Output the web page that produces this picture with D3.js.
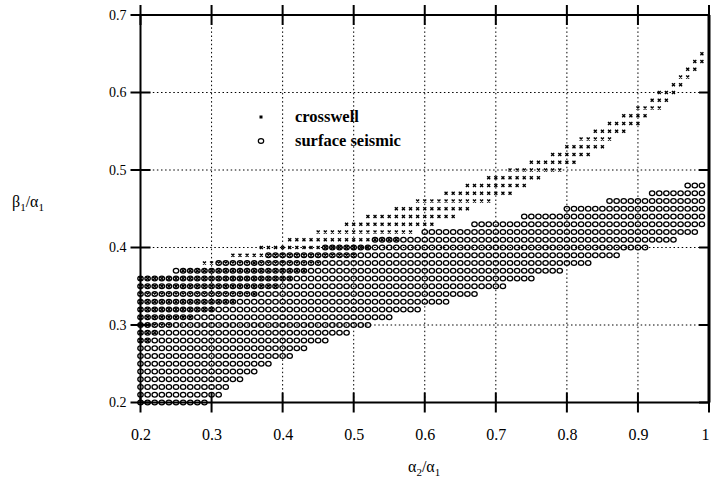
<!DOCTYPE html>
<html>
<head>
<meta charset="utf-8">
<script src="https://cdn.jsdelivr.net/npm/d3@7"></script>
<style>
  html, body { margin: 0; padding: 0; background: #fff; }
  svg { display: block; }
</style>
</head>
<body>
<svg id="chart" width="711" height="483"></svg>
<script>
// Axis ticks
const xTicks = [0.2, 0.3, 0.4, 0.5, 0.6, 0.7, 0.8, 0.9, 1.0];
const xTickLabels = ["0.2", "0.3", "0.4", "0.5", "0.6", "0.7", "0.8", "0.9", "1"];
const yTicks = [0.2, 0.3, 0.4, 0.5, 0.6, 0.7];
const yTickLabels = ["0.2", "0.3", "0.4", "0.5", "0.6", "0.7"];

// Surface seismic: for each beta1/alpha1 row, the alpha2/alpha1 extent of valid grid nodes (step 0.01)
const surfaceRows = [0.20, 0.21, 0.22, 0.23, 0.24, 0.25, 0.26, 0.27, 0.28, 0.29,
                     0.30, 0.31, 0.32, 0.33, 0.34, 0.35, 0.36, 0.37, 0.38, 0.39,
                     0.40, 0.41, 0.42, 0.43, 0.44, 0.45, 0.46, 0.47, 0.48];
const surfaceFrom = [0.20, 0.20, 0.20, 0.20, 0.20, 0.20, 0.20, 0.20, 0.20, 0.20,
                     0.20, 0.20, 0.20, 0.20, 0.20, 0.20, 0.20, 0.25, 0.31, 0.38,
                     0.46, 0.53, 0.60, 0.67, 0.74, 0.80, 0.86, 0.92, 0.97];
const surfaceTo   = [0.29, 0.31, 0.32, 0.34, 0.36, 0.38, 0.41, 0.43, 0.46, 0.49,
                     0.52, 0.55, 0.59, 0.63, 0.67, 0.71, 0.75, 0.79, 0.83, 0.87,
                     0.91, 0.95, 0.98, 0.99, 0.99, 0.99, 0.99, 0.99, 0.99];

// Crosswell: same layout
const crossRows = [0.28, 0.29, 0.30, 0.31, 0.32, 0.33, 0.34, 0.35, 0.36, 0.37,
                   0.38, 0.39, 0.40, 0.41, 0.42, 0.43, 0.44, 0.45, 0.46, 0.47,
                   0.48, 0.49, 0.50, 0.51, 0.52, 0.53, 0.54, 0.55, 0.56, 0.57,
                   0.58, 0.59, 0.60, 0.61, 0.62, 0.63, 0.64, 0.65];
const crossFrom = [0.20, 0.20, 0.20, 0.20, 0.20, 0.20, 0.20, 0.20, 0.20, 0.26,
                   0.29, 0.33, 0.37, 0.41, 0.45, 0.49, 0.52, 0.56, 0.59, 0.63,
                   0.66, 0.69, 0.72, 0.75, 0.78, 0.80, 0.82, 0.84, 0.86, 0.88,
                   0.90, 0.92, 0.93, 0.95, 0.96, 0.97, 0.98, 0.99];
const crossTo   = [0.21, 0.22, 0.24, 0.27, 0.30, 0.33, 0.36, 0.39, 0.41, 0.43,
                   0.45, 0.50, 0.52, 0.56, 0.58, 0.61, 0.64, 0.66, 0.69, 0.72,
                   0.74, 0.76, 0.79, 0.81, 0.83, 0.85, 0.86, 0.88, 0.90, 0.91,
                   0.93, 0.94, 0.95, 0.96, 0.97, 0.98, 0.99, 0.99];

// Expand row extents into grid nodes (integer hundredths to stay exact)
function expand(rows, from, to) {
  const pts = [];
  rows.forEach((r, i) => {
    const a = Math.round(from[i] * 100), b = Math.round(to[i] * 100);
    for (let k = a; k <= b; k++) pts.push({ x: k / 100, y: r });
  });
  return pts;
}
const surfacePts = expand(surfaceRows, surfaceFrom, surfaceTo);
const crossPts = expand(crossRows, crossFrom, crossTo);

const svg = d3.select("#chart");
const serif = "'Liberation Serif', 'Times New Roman', serif";

svg.append("rect").attr("width", 711).attr("height", 483).attr("fill", "#fff");

const x = d3.scaleLinear().domain([0.2, 1.0]).range([140.5, 709]);
const y = d3.scaleLinear().domain([0.2, 0.7]).range([402.5, 15]);

// Dotted grid
const grid = svg.append("g").attr("stroke", "#000").attr("stroke-width", 1)
  .attr("stroke-dasharray", "1.5,2.6").attr("fill", "none");
grid.selectAll("line.gx").data(xTicks.slice(1, -1)).join("line")
  .attr("x1", d => x(d)).attr("x2", d => x(d))
  .attr("y1", y(0.7)).attr("y2", y(0.2));
grid.selectAll("line.gy").data(yTicks.slice(1, -1)).join("line")
  .attr("x1", x(0.2)).attr("x2", x(1.0))
  .attr("y1", d => y(d)).attr("y2", d => y(d));

// Surface seismic nodes: open circles
svg.append("g").selectAll("ellipse").data(surfacePts).join("ellipse")
  .attr("cx", d => x(d.x)).attr("cy", d => y(d.y))
  .attr("rx", 2.7).attr("ry", 2.3)
  .attr("fill", "none").attr("stroke", "#000").attr("stroke-width", 1.3);

// Crosswell nodes: small crosses
const xs = 1.5;
svg.append("g").selectAll("path").data(crossPts).join("path")
  .attr("d", d => {
    const cx = x(d.x), cy = y(d.y);
    return `M${cx - xs},${cy - xs}L${cx + xs},${cy + xs}M${cx - xs},${cy + xs}L${cx + xs},${cy - xs}`;
  })
  .attr("stroke", "#000").attr("stroke-width", 1.4).attr("fill", "none");

// Frame
const frame = svg.append("g").attr("stroke", "#000").attr("fill", "none");
frame.append("rect")
  .attr("x", x(0.2)).attr("y", y(0.7))
  .attr("width", x(1.0) - x(0.2)).attr("height", y(0.2) - y(0.7))
  .attr("stroke-width", 2);
frame.append("line").attr("x1", x(1.0)).attr("x2", x(1.0))
  .attr("y1", y(0.7)).attr("y2", y(0.2)).attr("stroke-width", 3);

// Ticks crossing the frame
const tk = 10;
frame.selectAll("line.tb").data(xTicks).join("line")
  .attr("x1", d => x(d)).attr("x2", d => x(d))
  .attr("y1", y(0.2) - tk).attr("y2", y(0.2) + tk).attr("stroke-width", 2);
frame.selectAll("line.tt").data(xTicks).join("line")
  .attr("x1", d => x(d)).attr("x2", d => x(d))
  .attr("y1", y(0.7) - tk).attr("y2", y(0.7) + tk).attr("stroke-width", 2);
frame.selectAll("line.tl").data(yTicks).join("line")
  .attr("x1", x(0.2) - tk).attr("x2", x(0.2) + tk)
  .attr("y1", d => y(d)).attr("y2", d => y(d)).attr("stroke-width", 2);
frame.selectAll("line.tr").data(yTicks).join("line")
  .attr("x1", x(1.0) - tk).attr("x2", x(1.0))
  .attr("y1", d => y(d)).attr("y2", d => y(d)).attr("stroke-width", 2);

// Tick labels via d3 axes
const xAxis = svg.append("g").attr("transform", `translate(0,${y(0.2)})`)
  .call(d3.axisBottom(x).tickValues(xTicks).tickSize(0).tickPadding(26)
    .tickFormat((d, i) => xTickLabels[i]));
xAxis.select(".domain").remove();
xAxis.selectAll("text").attr("font-family", serif).attr("font-size", 16)
  .attr("fill", "#000");
// keep the last label inside the page edge
xAxis.selectAll(".tick").filter(d => d === 1.0).select("text").attr("dx", -4);

const yAxis = svg.append("g").attr("transform", `translate(${x(0.2)},0)`)
  .call(d3.axisLeft(y).tickValues(yTicks).tickSize(0).tickPadding(14)
    .tickFormat((d, i) => yTickLabels[i]));
yAxis.select(".domain").remove();
yAxis.selectAll("text").attr("font-family", serif).attr("font-size", 14)
  .attr("fill", "#000");

// Axis titles
function ratioLabel(g, a, sa, b, sb) {
  const t = g.append("text").attr("font-family", serif).attr("font-size", 16).attr("fill", "#000");
  t.append("tspan").text(a);
  t.append("tspan").attr("dy", 4).attr("font-size", 11).text(sa);
  t.append("tspan").attr("dy", -4).text("/" + b);
  t.append("tspan").attr("dy", 4).attr("font-size", 11).text(sb);
  return t;
}
ratioLabel(svg, "α", "2", "α", "1").attr("x", 408).attr("y", 472);
ratioLabel(svg, "β", "1", "α", "1").attr("x", 12).attr("y", 207);

// Legend
const lg = svg.append("g");
lg.append("rect").attr("x", 259.5).attr("y", 115.5).attr("width", 3).attr("height", 3).attr("fill", "#000");
lg.append("ellipse").attr("cx", 261).attr("cy", 141).attr("rx", 2.7).attr("ry", 2.3)
  .attr("fill", "none").attr("stroke", "#000").attr("stroke-width", 1.2);
lg.append("text").attr("x", 295).attr("y", 122).attr("font-family", serif)
  .attr("font-weight", "bold").attr("font-size", 16.5).text("crosswell");
lg.append("text").attr("x", 295).attr("y", 146).attr("font-family", serif)
  .attr("font-weight", "bold").attr("font-size", 16.5).text("surface seismic");
</script>
</body>
</html>
